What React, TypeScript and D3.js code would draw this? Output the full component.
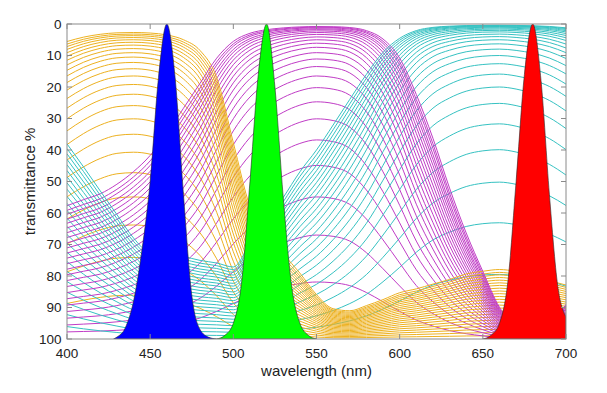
import React from "react";
import * as d3 from "d3";

// sample wavelengths (nm) for the dye density spectra
const wavelengths = [
  400, 410, 420, 430, 440, 450, 460, 470, 480, 490, 500, 510, 520, 530, 540, 550,
  560, 570, 580, 590, 600, 610, 620, 630, 640, 650, 660, 670, 680, 690, 700,
];

// relative optical density of each dye (1 = its maximum)
const yellowDensity = [
  0.8, 0.88, 0.947, 0.99, 1.0, 0.983, 0.93, 0.83, 0.685, 0.49, 0.27, 0.151, 0.111, 0.087, 0.065, 0.042,
  0.028, 0.026, 0.031, 0.037, 0.044, 0.048, 0.053, 0.058, 0.064, 0.067, 0.069, 0.067, 0.064, 0.057, 0.052,
];
const magentaDensity = [
  0.114, 0.121, 0.128, 0.14, 0.157, 0.181, 0.219, 0.273, 0.346, 0.46, 0.6, 0.73, 0.83, 0.91, 0.97, 1.0,
  0.985, 0.93, 0.8, 0.63, 0.46, 0.31, 0.21, 0.135, 0.085, 0.05, 0.022, 0.009, 0.005, 0.01, 0.024,
];
const cyanDensity = [
  0.175, 0.143, 0.115, 0.091, 0.07, 0.058, 0.057, 0.055, 0.052, 0.05, 0.047, 0.065, 0.084, 0.108, 0.137, 0.166,
  0.206, 0.259, 0.332, 0.436, 0.56, 0.7, 0.82, 0.9, 0.96, 0.99, 1.0, 0.98, 0.94, 0.88, 0.8,
];

// transmittance (%) at the absorption maximum of every curve, lightest to densest
const yellowPeakT = [
  86.1, 74.1, 63.8, 54.9, 47.2, 40.7, 35.0, 30.1, 25.9, 22.3, 19.2, 16.5,
  14.2, 12.2, 10.5, 9.1, 7.8, 6.7, 5.8, 5.0, 4.3, 3.7, 3.2, 2.7,
];
const magentaPeakT = [
  81.9, 67.0, 54.9, 44.9, 36.8, 30.1, 24.7, 20.2, 16.5, 13.5, 11.1, 9.1,
  7.4, 6.1, 5.0, 4.1, 3.3, 2.7, 2.2, 1.8, 1.5, 1.2, 1.0, 0.8,
];
const cyanPeakT = [
  79.5, 63.1, 50.2, 39.9, 31.7, 25.2, 20.0, 15.9, 12.6, 10.0, 7.97, 6.3,
  5.0, 4.0, 3.2, 2.5, 2.0, 1.6, 1.26, 1.0, 0.8, 0.63, 0.5, 0.4,
];

// LED emission spectra (relative intensity)
const blueLedNm = [428, 430, 435, 440, 445, 450, 455, 460, 465, 470, 475, 480, 485, 490];
const blueLedLevel = [0, 0.006, 0.035, 0.12, 0.28, 0.5, 0.83, 1.0, 0.83, 0.46, 0.14, 0.03, 0.006, 0];
const greenLedNm = [490, 495, 500, 505, 510, 515, 520, 525, 530, 535, 540, 545, 550];
const greenLedLevel = [0, 0.012, 0.05, 0.18, 0.5, 0.84, 1.0, 0.8, 0.45, 0.17, 0.05, 0.012, 0];
const redLedNm = [650, 655, 660, 665, 670, 675, 680, 685, 690, 695, 700];
const redLedLevel = [0, 0.012, 0.05, 0.18, 0.5, 0.84, 1.0, 0.82, 0.46, 0.17, 0.07];

const xTicks = [400, 450, 500, 550, 600, 650, 700];
const yTicks = [0, 10, 20, 30, 40, 50, 60, 70, 80, 90, 100];

const width = 607;
const height = 393;
const margin = { top: 24, right: 41, bottom: 54, left: 67 };
const font = "'Liberation Sans', Arial, Helvetica, sans-serif";

export default function App() {
  const x = d3.scaleLinear().domain([400, 700]).range([margin.left, width - margin.right]);
  const y = d3.scaleLinear().domain([0, 100]).range([margin.top, height - margin.bottom]);
  const [x0, x1] = x.range();
  const [y0, y1] = y.range();

  const line = d3
    .line<[number, number]>()
    .x((d) => x(d[0]))
    .y((d) => y(d[1]))
    .curve(d3.curveMonotoneX);

  const area = d3
    .area<[number, number]>()
    .x((d) => x(d[0]))
    .y0(y(100))
    .y1((d) => y(100 * (1 - d[1])))
    .curve(d3.curveMonotoneX);

  const families = [
    { color: "#EDB120", density: yellowDensity, peaks: yellowPeakT },
    { color: "#C03CC6", density: magentaDensity, peaks: magentaPeakT },
    { color: "#36C2C2", density: cyanDensity, peaks: cyanPeakT },
  ];

  // interleave the three dye families, lightest first
  const curves: { color: string; pts: [number, number][] }[] = [];
  for (let i = 0; i < 24; i++) {
    families.forEach((f) => {
      const pk = f.peaks[i] / 100;
      curves.push({
        color: f.color,
        pts: wavelengths.map((w, j) => [w, 100 * Math.pow(pk, f.density[j])] as [number, number]),
      });
    });
  }

  const leds = [
    { color: "#0000FF", nm: blueLedNm, lv: blueLedLevel },
    { color: "#00FF00", nm: greenLedNm, lv: greenLedLevel },
    { color: "#FF0000", nm: redLedNm, lv: redLedLevel },
  ];

  const axisColor = "#8a8a8a";
  const tickLen = 5;

  return (
    <svg
      width={width}
      height={height}
      style={{ position: "absolute", left: 0, top: 0, background: "#fff" }}
    >
      <defs>
        <clipPath id="plot">
          <rect x={x0} y={y0} width={x1 - x0} height={y1 - y0} />
        </clipPath>
      </defs>

      <g clipPath="url(#plot)">
        {curves.map((c, i) => (
          <path key={i} d={line(c.pts) || ""} fill="none" stroke={c.color} strokeWidth={1} />
        ))}
        {leds.map((l, i) => (
          <path
            key={i}
            d={area(l.nm.map((w, j) => [w, l.lv[j]] as [number, number])) || ""}
            fill={l.color}
            stroke="#2a2a2a"
            strokeWidth={0.6}
          />
        ))}
      </g>

      {/* box */}
      <rect x={x0} y={y0} width={x1 - x0} height={y1 - y0} fill="none" stroke={axisColor} strokeWidth={1} />

      {/* ticks */}
      {xTicks.map((t) => (
        <g key={t}>
          <line x1={x(t)} x2={x(t)} y1={y1} y2={y1 - tickLen} stroke={axisColor} />
          <line x1={x(t)} x2={x(t)} y1={y0} y2={y0 + tickLen} stroke={axisColor} />
          <text
            x={x(t)}
            y={358}
            textAnchor="middle"
            fontFamily={font}
            fontSize={13.5}
            fill="#222"
          >
            {t}
          </text>
        </g>
      ))}
      {yTicks.map((t) => (
        <g key={t}>
          <line x1={x0} x2={x0 + tickLen} y1={y(t)} y2={y(t)} stroke={axisColor} />
          <line x1={x1} x2={x1 - tickLen} y1={y(t)} y2={y(t)} stroke={axisColor} />
          <text
            x={x0 - 5.5}
            y={y(t)}
            dy="0.36em"
            textAnchor="end"
            fontFamily={font}
            fontSize={13.5}
            fill="#222"
          >
            {t}
          </text>
        </g>
      ))}

      <text
        x={(x0 + x1) / 2}
        y={376}
        textAnchor="middle"
        fontFamily={font}
        fontSize={15}
        fill="#222"
      >
        wavelength (nm)
      </text>
      <text
        transform={`translate(35,${(y0 + y1) / 2}) rotate(-90)`}
        textAnchor="middle"
        fontFamily={font}
        fontSize={15}
        fill="#222"
      >
        transmittance %
      </text>
    </svg>
  );
}
